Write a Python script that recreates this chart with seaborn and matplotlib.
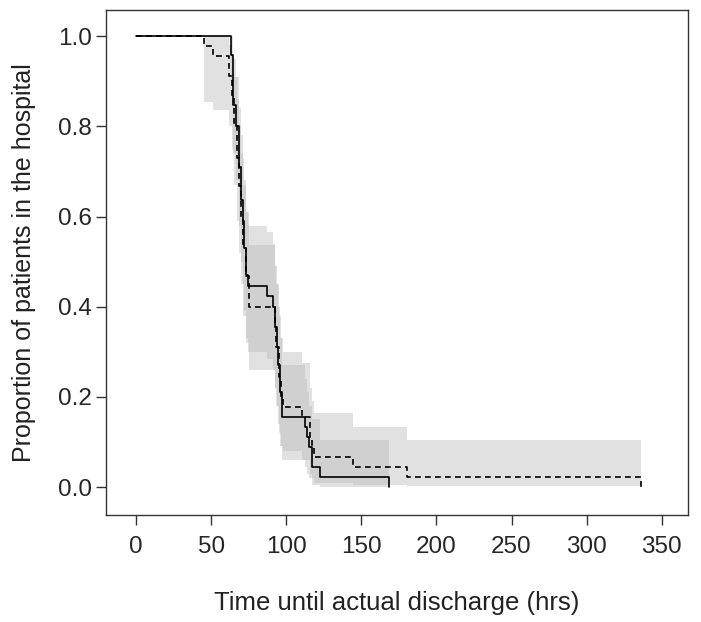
import numpy as np
import pandas as pd
import matplotlib
matplotlib.use("Agg")
import matplotlib.pyplot as plt
import seaborn as sns
from matplotlib import font_manager

# ---- data ----
# solid curve
solid_t = [0, 62.9, 64.6, 66.8, 68.6, 70.1, 71.2, 72.2, 73.5, 74.5, 87.2, 91.2,
           92.5, 93.6, 94.7, 95.8, 97.0, 112.2, 113.7, 115.0, 117.3, 122.2, 168.2]
solid_s = [1.0, 0.958, 0.847, 0.80, 0.71, 0.636, 0.59, 0.53, 0.47, 0.446, 0.424, 0.40,
           0.355, 0.31, 0.27, 0.21, 0.156, 0.134, 0.111, 0.089, 0.045, 0.023, 0.0]
solid_lo = [1.0, 0.90, 0.74, 0.68, 0.58, 0.50, 0.45, 0.39, 0.33, 0.30, 0.285, 0.26,
            0.22, 0.18, 0.14, 0.09, 0.06, 0.045, 0.03, 0.02, 0.005, 0.0, 0.0]
solid_hi = [1.0, 1.0, 0.95, 0.91, 0.84, 0.78, 0.73, 0.68, 0.61, 0.58, 0.565, 0.54,
            0.49, 0.45, 0.40, 0.33, 0.27, 0.24, 0.21, 0.18, 0.15, 0.104, 0.104]

# dashed curve
dash_t = [0, 45.4, 51.0, 62.0, 63.6, 65.2, 67.0, 68.6, 70.0, 71.5, 73.0, 75.0, 92.3,
          93.5, 95.0, 96.5, 98.0, 110.7, 115.5, 117.3, 118.4, 144.3, 180.6, 336.0]
dash_s = [1.0, 0.978, 0.956, 0.911, 0.867, 0.80, 0.73, 0.667, 0.60, 0.53, 0.467, 0.40, 0.356,
          0.31, 0.244, 0.20, 0.178, 0.156, 0.111, 0.089, 0.067, 0.044, 0.022, 0.0]
dash_lo = [1.0, 0.855, 0.837, 0.80, 0.75, 0.67, 0.59, 0.52, 0.45, 0.38, 0.32, 0.26, 0.22,
           0.18, 0.12, 0.09, 0.08, 0.06, 0.03, 0.02, 0.01, 0.005, 0.003, 0.003]
dash_hi = [1.0, 1.0, 1.0, 0.98, 0.96, 0.91, 0.86, 0.80, 0.74, 0.67, 0.61, 0.537, 0.49,
           0.45, 0.38, 0.33, 0.30, 0.275, 0.22, 0.19, 0.164, 0.134, 0.104, 0.104]

x_ticks = [0, 50, 100, 150, 200, 250, 300, 350]
y_ticks = [0.0, 0.2, 0.4, 0.6, 0.8, 1.0]
x_label = "Time until actual discharge (hrs)"
y_label = "Proportion of patients in the hospital"

# ---- style ----
sns.set_style("ticks")
plt.rcParams['font.family'] = ['Liberation Sans', 'DejaVu Sans']
available = {f.name for f in font_manager.fontManager.ttflist}
narrow = 'Liberation Sans Narrow' if 'Liberation Sans Narrow' in available else 'Liberation Sans'

fig = plt.figure(figsize=(7.01, 6.22), dpi=100)
ax = fig.add_axes([106/701, 1 - 515/622, (688-106)/701, (515-10)/622])

band_color = (0.735, 0.735, 0.735)
for t, lo, hi in [(dash_t, dash_lo, dash_hi), (solid_t, solid_lo, solid_hi)]:
    start = 1
    ax.fill_between(t[start:], lo[start:], hi[start:], step='post',
                    color=band_color, alpha=0.44, linewidth=0)

df_solid = pd.DataFrame({'t': solid_t, 's': solid_s})
df_dash = pd.DataFrame({'t': dash_t, 's': dash_s})
sns.lineplot(data=df_dash, x='t', y='s', ax=ax, color='black', linewidth=1.2,
             drawstyle='steps-post', estimator=None, sort=False, dashes=False,
             linestyle=(0, (3.5, 2.5)))
sns.lineplot(data=df_solid, x='t', y='s', ax=ax, color='black', linewidth=1.2,
             drawstyle='steps-post', estimator=None, sort=False)

ax.set_xlim(-20, 367.5)
ax.set_ylim(-0.062, 1.058)
ax.set_xticks(x_ticks)
ax.set_xticklabels([str(v) for v in x_ticks], fontfamily=narrow, fontsize=17.5)
ax.set_yticks(y_ticks)
ax.set_yticklabels([f"{v:.1f}" for v in y_ticks], fontsize=17.5)
ax.tick_params(axis='both', direction='out', length=7, width=1, color='#333333')
ax.tick_params(axis='x', pad=8)
ax.tick_params(axis='y', pad=3)
for sp in ax.spines.values():
    sp.set_visible(True)
    sp.set_color('#333333')
    sp.set_linewidth(1.0)

ax.set_xlabel(x_label, fontfamily=narrow, fontsize=18.5, labelpad=24, color='#222222')
ax.set_ylabel(y_label, fontsize=18, labelpad=16, color='#222222')

fig.savefig("out.png", dpi=100, facecolor='white')
